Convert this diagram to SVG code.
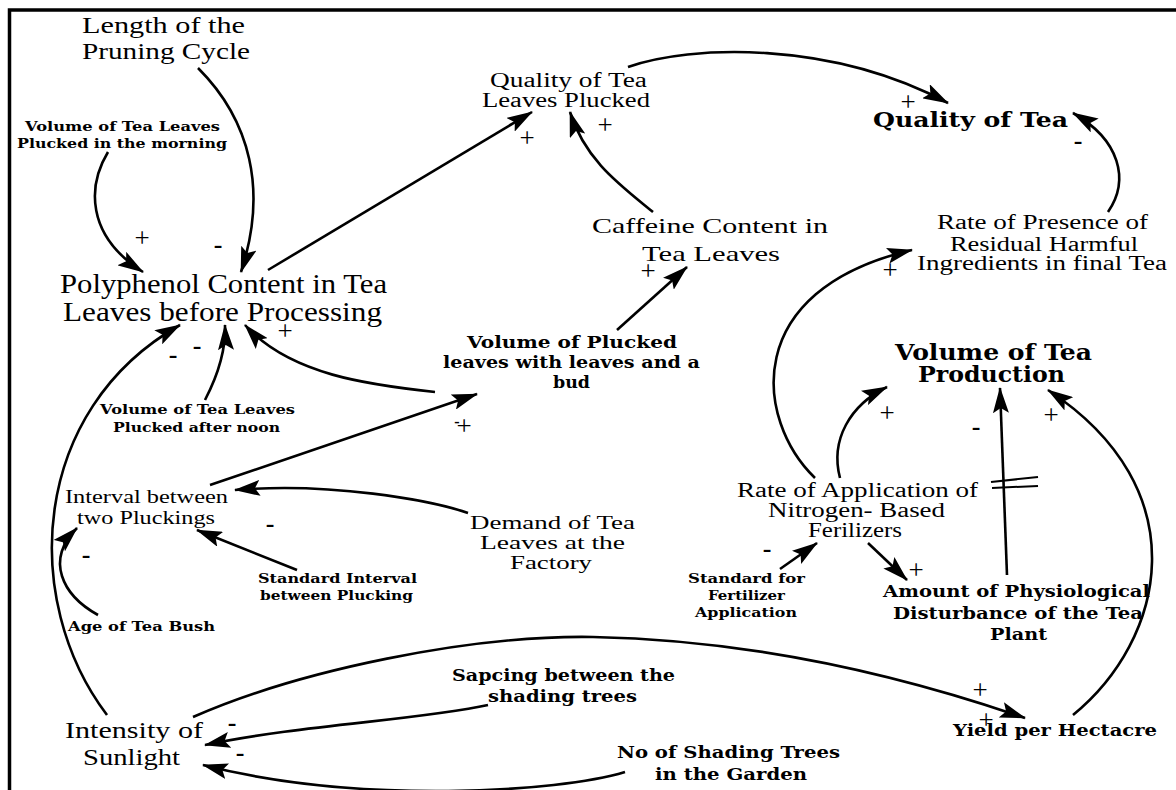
<svg xmlns="http://www.w3.org/2000/svg" width="1176" height="790" viewBox="0 0 1176 790">
  <defs>
    <marker id="ah" viewBox="0 0 26 16" refX="25" refY="8" markerWidth="26" markerHeight="16" markerUnits="userSpaceOnUse" orient="auto">
      <path d="M0,0 L26,8 L0,16 L5,8 z" fill="#000"/>
    </marker>
    <style>
      text { fill: #000; }
      .r { font-family: "Liberation Serif", "Times New Roman", serif; }
      .b { font-family: "DejaVu Serif", "Liberation Serif", serif; font-weight: bold; }
      .s { font-family: "DejaVu Serif", "Liberation Serif", serif; font-weight: bold; font-size: 12.5px; }
      .pl { font-family: "Liberation Serif", serif; font-size: 27px; text-anchor: middle; }
      .mi { font-family: "Liberation Serif", serif; font-size: 26px; font-weight: bold; text-anchor: middle; }
      .c { fill: none; stroke: #000; stroke-width: 2.6; marker-end: url(#ah); }
      .frame { stroke: #000; stroke-width: 3.5; fill: none; }
      .bar { stroke: #000; stroke-width: 2; }
    </style>
  </defs>

  <rect width="1176" height="790" fill="#fff"/>

  <!-- frame -->
  <path class="frame" d="M9.5,790 L9.5,10 L1176,10"/>

  <!-- connectors -->
  <g id="connectors">
    <path class="c" d="M198,68 C250,120 268,190 241,272"/>
    <path class="c" d="M108,152 C88,185 85,235 143,272"/>
    <path class="c" d="M268,270 L532,112"/>
    <path class="c" d="M653,212 C620,185 585,160 570,112"/>
    <path class="c" d="M628,67 C690,45 830,40 948,103"/>
    <path class="c" d="M1108,212 C1130,180 1120,140 1073,113"/>
    <path class="c" d="M617,330 L687,267"/>
    <path class="c" d="M435,392 C370,385 290,375 245,325"/>
    <path class="c" d="M210,485 L477,394"/>
    <path class="c" d="M468,513 C430,500 330,482 235,490"/>
    <path class="c" d="M297,570 L197,530"/>
    <path class="c" d="M98,615 C62,595 45,560 77,528"/>
    <path class="c" d="M107,715 C20,600 30,410 180,325"/>
    <path class="c" d="M205,400 C218,375 226,350 225,325"/>
    <path class="c" d="M193,717 C300,670 470,635 593,637 C750,640 900,675 1025,718"/>
    <path class="c" d="M488,705 C420,720 300,725 205,745"/>
    <path class="c" d="M625,772 C560,792 360,805 203,765"/>
    <path class="c" d="M815,478 C755,420 740,290 912,250"/>
    <path class="c" d="M840,478 C830,440 850,405 887,387"/>
    <path class="c" d="M1007,575 L1000,388"/>
    <path class="c" d="M1073,715 C1165,640 1200,490 1048,390"/>
    <path class="c" d="M868,543 L907,580"/>
    <path class="c" d="M780,569 L817,543"/>
    <!-- delay marks -->
    <line class="bar" x1="991" y1="482" x2="1038" y2="477"/>
    <line class="bar" x1="992" y1="488" x2="1038" y2="486"/>
  </g>

  <!-- polarity signs -->
  <g id="polarities">
    <text class="pl" x="142" y="247">+</text>
    <text class="mi" x="218" y="253">-</text>
    <text class="pl" x="527" y="147">+</text>
    <text class="pl" x="605" y="134">+</text>
    <text class="pl" x="908" y="111">+</text>
    <text class="mi" x="1078" y="149">-</text>
    <text class="mi" x="173" y="363">-</text>
    <text class="mi" x="197" y="354">-</text>
    <text class="pl" x="285" y="340">+</text>
    <text class="pl" x="648" y="280">+</text>
    <text class="pl" x="890" y="279">+</text>
    <text class="pl" x="463" y="435"><tspan font-size="16" font-weight="bold" dy="-8">-</tspan><tspan dx="-3" dy="8">+</tspan></text>
    <text class="pl" x="887" y="422">+</text>
    <text class="mi" x="976" y="435">-</text>
    <text class="pl" x="1051" y="424">+</text>
    <text class="mi" x="270" y="532">-</text>
    <text class="mi" x="86" y="563">-</text>
    <text class="mi" x="767" y="557">-</text>
    <text class="pl" x="916" y="579">+</text>
    <text class="pl" x="980" y="699">+</text>
    <text class="pl" x="986" y="729">+</text>
    <text class="mi" x="232" y="731">-</text>
    <text class="mi" x="240" y="761">-</text>
  </g>

  <!-- nodes -->
  <g id="length-pruning-cycle">
    <text class="r" font-size="23" x="82" y="33" textLength="163" lengthAdjust="spacingAndGlyphs">Length of the</text>
    <text class="r" font-size="23" x="82" y="59" textLength="168" lengthAdjust="spacingAndGlyphs">Pruning Cycle</text>
  </g>
  <g id="morning-leaves">
    <text class="s" x="25" y="131" textLength="195" lengthAdjust="spacingAndGlyphs">Volume of Tea Leaves</text>
    <text class="s" x="17" y="148" textLength="210" lengthAdjust="spacingAndGlyphs">Plucked in the morning</text>
  </g>
  <g id="quality-leaves-plucked">
    <text class="r" font-size="20" x="490" y="87" textLength="157" lengthAdjust="spacingAndGlyphs">Quality of Tea</text>
    <text class="r" font-size="20" x="482" y="107" textLength="168" lengthAdjust="spacingAndGlyphs">Leaves Plucked</text>
  </g>
  <g id="quality-of-tea">
    <text class="b" font-size="20.5" x="873" y="127" textLength="195" lengthAdjust="spacingAndGlyphs">Quality of Tea</text>
  </g>
  <g id="caffeine-content">
    <text class="r" font-size="22" x="592" y="233" textLength="236" lengthAdjust="spacingAndGlyphs">Caffeine Content in</text>
    <text class="r" font-size="22" x="642" y="261" textLength="138" lengthAdjust="spacingAndGlyphs">Tea Leaves</text>
  </g>
  <g id="residual-harmful">
    <text class="r" font-size="20" x="937" y="229" textLength="211" lengthAdjust="spacingAndGlyphs">Rate of Presence of</text>
    <text class="r" font-size="20" x="950" y="251" textLength="188" lengthAdjust="spacingAndGlyphs">Residual Harmful</text>
    <text class="r" font-size="20" x="917" y="270" textLength="250" lengthAdjust="spacingAndGlyphs">Ingredients in final Tea</text>
  </g>
  <g id="polyphenol-content">
    <text class="r" font-size="27" x="60" y="293" textLength="327" lengthAdjust="spacingAndGlyphs">Polyphenol Content in Tea</text>
    <text class="r" font-size="27" x="63" y="321" textLength="319" lengthAdjust="spacingAndGlyphs">Leaves before Processing</text>
  </g>
  <g id="plucked-leaves-bud">
    <text class="b" font-size="16.5" x="467" y="348" textLength="210" lengthAdjust="spacingAndGlyphs">Volume of Plucked</text>
    <text class="b" font-size="16.5" x="443" y="368" textLength="257" lengthAdjust="spacingAndGlyphs">leaves with leaves and a</text>
    <text class="b" font-size="16.5" x="553" y="388" textLength="37" lengthAdjust="spacingAndGlyphs">bud</text>
  </g>
  <g id="tea-production">
    <text class="b" font-size="23" x="895" y="360" textLength="197" lengthAdjust="spacingAndGlyphs">Volume of Tea</text>
    <text class="b" font-size="23" x="918" y="382" textLength="147" lengthAdjust="spacingAndGlyphs">Production</text>
  </g>
  <g id="afternoon-leaves">
    <text class="s" x="100" y="414" textLength="195" lengthAdjust="spacingAndGlyphs">Volume of Tea Leaves</text>
    <text class="s" x="113" y="432" textLength="167" lengthAdjust="spacingAndGlyphs">Plucked after noon</text>
  </g>
  <g id="plucking-interval">
    <text class="r" font-size="19" x="65" y="503" textLength="163" lengthAdjust="spacingAndGlyphs">Interval between</text>
    <text class="r" font-size="19" x="77" y="524" textLength="138" lengthAdjust="spacingAndGlyphs">two Pluckings</text>
  </g>
  <g id="factory-demand">
    <text class="r" font-size="19" x="470" y="529" textLength="165" lengthAdjust="spacingAndGlyphs">Demand of Tea</text>
    <text class="r" font-size="19" x="480" y="549" textLength="145" lengthAdjust="spacingAndGlyphs">Leaves at the</text>
    <text class="r" font-size="19" x="510" y="569" textLength="82" lengthAdjust="spacingAndGlyphs">Factory</text>
  </g>
  <g id="standard-interval">
    <text class="s" x="258" y="583" textLength="159" lengthAdjust="spacingAndGlyphs">Standard Interval</text>
    <text class="s" x="260" y="600" textLength="153" lengthAdjust="spacingAndGlyphs">between Plucking</text>
  </g>
  <g id="bush-age">
    <text class="s" x="68" y="631" textLength="147" lengthAdjust="spacingAndGlyphs">Age of Tea Bush</text>
  </g>
  <g id="nitrogen-fertilizer">
    <text class="r" font-size="20" x="737" y="497" textLength="241" lengthAdjust="spacingAndGlyphs">Rate of Application of</text>
    <text class="r" font-size="20" x="768" y="517" textLength="177" lengthAdjust="spacingAndGlyphs">Nitrogen- Based</text>
    <text class="r" font-size="20" x="808" y="537" textLength="94" lengthAdjust="spacingAndGlyphs">Ferilizers</text>
  </g>
  <g id="fertilizer-standard">
    <text class="s" x="688" y="583" textLength="117" lengthAdjust="spacingAndGlyphs">Standard for</text>
    <text class="s" x="708" y="600" textLength="77" lengthAdjust="spacingAndGlyphs">Fertilizer</text>
    <text class="s" x="695" y="617" textLength="102" lengthAdjust="spacingAndGlyphs">Application</text>
  </g>
  <g id="physiological-disturbance">
    <text class="b" font-size="17.5" x="883" y="597" textLength="267" lengthAdjust="spacingAndGlyphs">Amount of Physiological</text>
    <text class="b" font-size="17.5" x="893" y="619" textLength="250" lengthAdjust="spacingAndGlyphs">Disturbance of the Tea</text>
    <text class="b" font-size="17.5" x="990" y="640" textLength="57" lengthAdjust="spacingAndGlyphs">Plant</text>
  </g>
  <g id="yield-per-hectacre">
    <text class="b" font-size="17.5" x="953" y="736" textLength="204" lengthAdjust="spacingAndGlyphs">Yield per Hectacre</text>
  </g>
  <g id="sunlight-intensity">
    <text class="r" font-size="23" x="65" y="738" textLength="138" lengthAdjust="spacingAndGlyphs">Intensity of</text>
    <text class="r" font-size="23" x="83" y="765" textLength="97" lengthAdjust="spacingAndGlyphs">Sunlight</text>
  </g>
  <g id="shade-tree-spacing">
    <text class="b" font-size="16.5" x="452" y="681" textLength="223" lengthAdjust="spacingAndGlyphs">Sapcing between the</text>
    <text class="b" font-size="16.5" x="488" y="702" textLength="149" lengthAdjust="spacingAndGlyphs">shading trees</text>
  </g>
  <g id="shade-tree-count">
    <text class="b" font-size="16.5" x="617" y="758" textLength="223" lengthAdjust="spacingAndGlyphs">No of Shading Trees</text>
    <text class="b" font-size="16.5" x="655" y="780" textLength="152" lengthAdjust="spacingAndGlyphs">in the Garden</text>
  </g>
</svg>
